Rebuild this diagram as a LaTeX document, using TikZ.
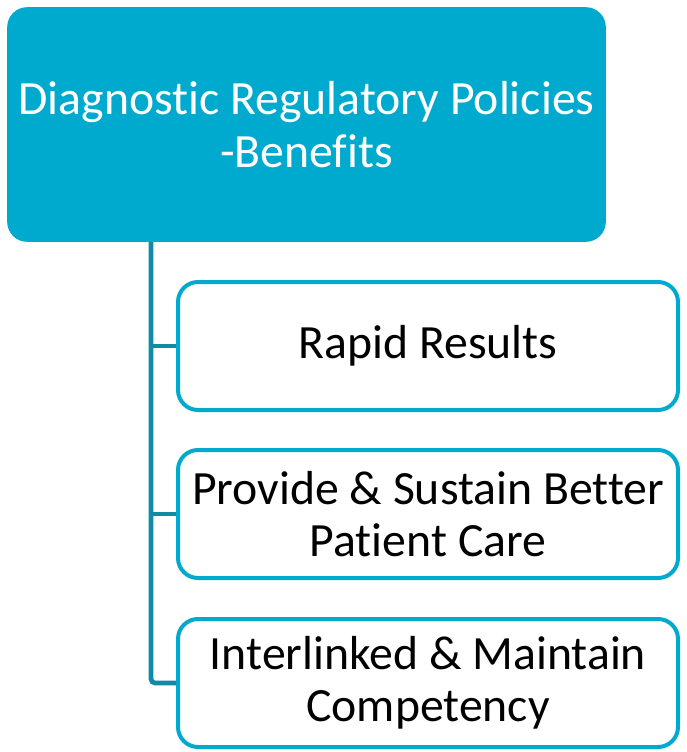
\documentclass[tikz,border=0pt]{standalone}
\usepackage{fontspec}
\setmainfont{Carlito}[Ligatures=NoCommon]
\usetikzlibrary{calc}
\definecolor{boxcyan}{RGB}{0,170,206}
\definecolor{linkteal}{RGB}{16,138,166}
\tikzset{
  title box/.style={shape=rectangle, rounded corners=15pt, fill=boxcyan,
    text=white, align=center, font=\fontsize{35.8}{39.5}\selectfont,
    minimum width=449pt, minimum height=176pt},
  item box/.style={shape=rectangle, rounded corners=15pt, draw=boxcyan,
    line width=3pt, fill=white, align=center,
    font=\fontsize{35.8}{39}\selectfont,
    minimum width=375pt, minimum height=96pt},
  link/.style={draw=linkteal, line width=3.5pt, rounded corners=3pt}
}
\begin{document}
\begin{tikzpicture}[x=0.75pt, y=-0.75pt]
\useasboundingbox (0,0) rectangle (686,752);
% Kopfzeile
\node[title box] (title) at (306.5,124.5)
  {Diagnostic Regulatory Policies\\-Benefits};
% Punkte
\node[item box] (rapid) at (428,346) {Rapid Results};
\node[item box] (care) at (428,514) {Provide \& Sustain Better\\Patient Care};
\node[item box] (competency) at (428,683) {Interlinked \& Maintain\\Competency};
% Verbindungen
\coordinate (trunk) at (151,242);
\draw[link] (trunk) |- (competency.west);
\draw[link] (trunk |- rapid.west) -- (rapid.west);
\draw[link] (trunk |- care.west) -- (care.west);
\end{tikzpicture}
\end{document}
